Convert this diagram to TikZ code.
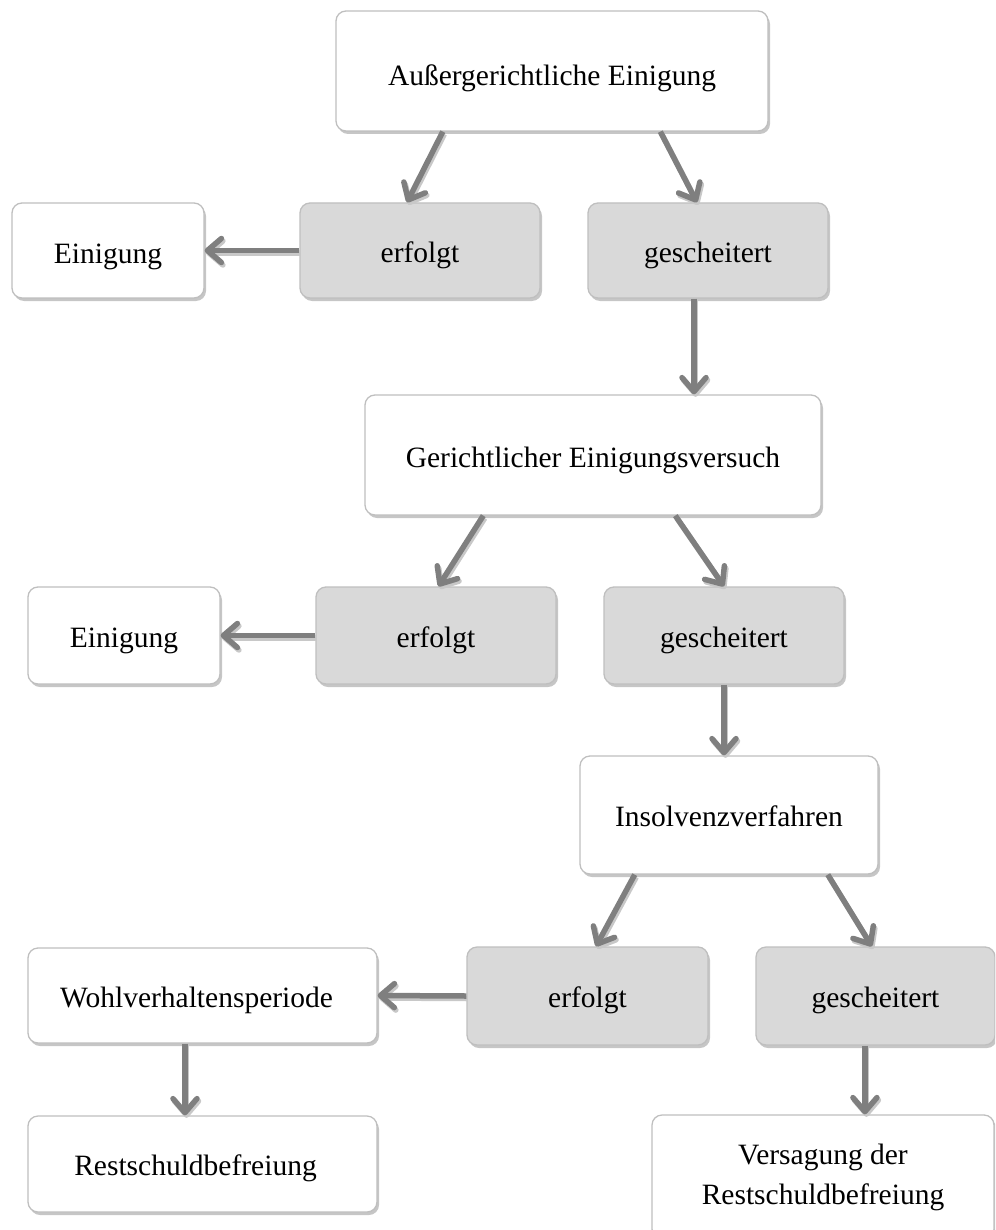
\documentclass[tikz,border=0pt]{standalone}
\usepackage{fontspec}
\setmainfont{Liberation Serif}
\usetikzlibrary{arrows.meta,shadows,calc}
\definecolor{boxline}{HTML}{BFBFBF}
\definecolor{boxfill}{HTML}{D9D9D9}
\definecolor{boxshade}{HTML}{C6C6C6}
\definecolor{arrowgray}{HTML}{7F7F7F}
\definecolor{arrowshade}{HTML}{C8C8C8}
\begin{document}
\begin{tikzpicture}[x=1pt,y=-1pt,
  box/.style={draw=boxline, line width=1.3pt, rounded corners=10pt, fill=white,
    inner sep=0pt, align=center, font=\fontsize{29.5}{40}\selectfont,
    text height=24pt, text depth=0pt,
    drop shadow={shadow xshift=2pt, shadow yshift=-3pt, fill=boxshade, opacity=1}},
  graybox/.style={box, fill=boxfill},
  tipshape/.style={-{Straight Barb[length=14pt,width=24pt,round]}},
  conn/.style={draw=arrowgray, line width=5.5pt, tipshape,
    preaction={draw=arrowshade, line width=5.5pt, tipshape,
      transform canvas={shift={(1.5pt,-2.5pt)}}}}]
\useasboundingbox (0,0) rectangle (995,1230);
\clip (0,0) rectangle (995,1230);

% level 1
\node[box, minimum width=432pt, minimum height=120pt, text height=30pt] (n1) at (552,71) {Außergerichtliche Einigung};
\node[graybox, minimum width=240pt, minimum height=95pt] (e1) at (420,250.5) {erfolgt};
\node[graybox, minimum width=240pt, minimum height=95pt] (g1) at (708,250.5) {gescheitert};
\node[box, minimum width=192pt, minimum height=95pt, text height=27pt] (i1) at (108,250.5) {Einigung};

% level 2
\node[box, minimum width=456pt, minimum height=120pt] (n2) at (593,455) {Gerichtlicher Einigungsversuch};
\node[graybox, minimum width=240pt, minimum height=97pt] (e2) at (436,635.5) {erfolgt};
\node[graybox, minimum width=240pt, minimum height=97pt] (g2) at (724,635.5) {gescheitert};
\node[box, minimum width=192pt, minimum height=97pt] (i2) at (124,635.5) {Einigung};

% level 3
\node[box, minimum width=298pt, minimum height=118pt, text height=22pt] (n3) at (729,815) {Insolvenzverfahren};
\node[graybox, minimum width=241pt, minimum height=98pt, text height=22pt] (e3) at (587.5,996) {erfolgt};
\node[graybox, minimum width=239pt, minimum height=98pt, text height=22pt] (g3) at (875.5,996) {gescheitert};
\node[box, minimum width=349pt, minimum height=95pt, text height=23pt] (w3) at (202.5,995.5) {Wohlverhaltensperiode\hspace*{12pt}};
\node[box, minimum width=349pt, minimum height=96pt, text height=22pt] (r3) at (202.5,1164) {Restschuldbefreiung\hspace*{14pt}};
\node[box, minimum width=342pt, minimum height=124pt, text height=, text depth=] (v3) at (823,1177) {Versagung der\\Restschuldbefreiung};

% connectors level 1
\draw[conn] ($(n1.south west)!.248!(n1.south east)$) -- ($(e1.north west)!.446!(e1.north east)$);
\draw[conn] ($(n1.south west)!.75!(n1.south east)$) -- ($(g1.north west)!.454!(g1.north east)$);
\draw[conn] (e1.west) -- (i1.east);
\coordinate (p4) at ($(g1.south west)!.442!(g1.south east)$);
\draw[conn] (p4) -- (p4 |- n2.north);

% connectors level 2
\draw[conn] ($(n2.south west)!.26!(n2.south east)$) -- ($(e2.north west)!.51!(e2.north east)$);
\draw[conn] ($(n2.south west)!.68!(n2.south east)$) -- ($(g2.north west)!.5!(g2.north east)$);
\draw[conn] (e2.west) -- (i2.east);
\draw[conn] (g2.south) -- (g2.south |- n3.north);

% connectors level 3
\draw[conn] ($(n3.south west)!.185!(n3.south east)$) -- ($(e3.north west)!.535!(e3.north east)$);
\draw[conn] ($(n3.south west)!.83!(n3.south east)$) -- ($(g3.north west)!.485!(g3.north east)$);
\draw[conn] (e3.west) -- (w3.east);
\coordinate (p12) at ($(g3.south west)!.456!(g3.south east)$);
\draw[conn] (p12) -- (p12 |- v3.north);
\coordinate (p13) at ($(w3.south west)!.45!(w3.south east)$);
\draw[conn] (p13) -- (p13 |- r3.north);
\end{tikzpicture}
\end{document}
